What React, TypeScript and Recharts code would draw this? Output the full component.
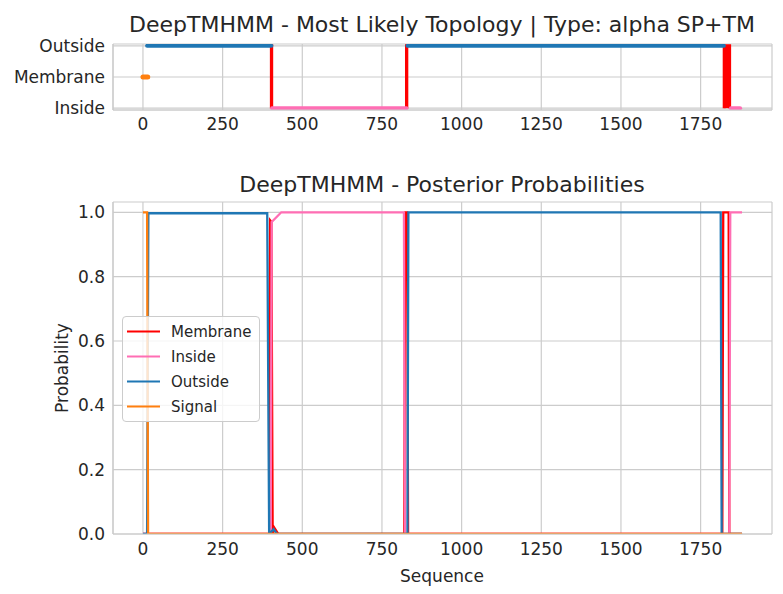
import React from "react";
import {
  ComposedChart,
  Line,
  Area,
  XAxis,
  YAxis,
  CartesianGrid,
} from "recharts";

// sequence positions shared by both panels
const xTicks = [0, 250, 500, 750, 1000, 1250, 1500, 1750];
const xDomain = [-94, 1974];

// topology panel: levels and their names
const topoLevels = [0, 1, 2];
const topoNames = ["Inside", "Membrane", "Outside"];

// topology segments [start, end]
const topoSignal = [[0, 15]];
const topoOutside = [[13, 403], [830, 1823]];
const topoInside = [[405, 827], [1845, 1874]];
const topoMembrane = [[403, 404], [827, 828], [1824, 1841]];

// posterior probabilities [position, probability]
const probTicks = [0, 0.2, 0.4, 0.6, 0.8, 1.0];
const seriesNames = ["Membrane", "Inside", "Outside", "Signal"];
const postMembrane = [
  [0, 0], [396, 0], [399, 0.975], [403, 0.97], [407, 0], [412, 0.02], [425, 0],
  [820, 0], [823, 1], [829, 1], [832, 0],
  [1818, 0], [1821, 1], [1838, 1], [1840, 0], [1880, 0],
];
const postInside = [
  [0, 0], [401, 0], [404, 0.97], [434, 1], [819, 1], [822, 0],
  [1840, 0], [1843, 1], [1880, 1],
];
const postOutside = [
  [0, 0], [13, 0], [17, 0.997], [390, 0.997], [396, 0], [410, 0.015], [420, 0],
  [830, 0], [833, 1], [1813, 1], [1816, 0], [1880, 0],
];
const postSignal = [[0, 1], [13, 1], [16, 0], [1880, 0]];

const RED = "#ff0000";
const PINK = "#ff6eb4";
const BLUE = "#1f77b4";
const ORANGE = "#ff7f0e";
const GRID = "#cccccc";
const TEXT = "#262626";
const FONT = "'DejaVu Sans', sans-serif";
const seriesColors = [RED, PINK, BLUE, ORANGE];
const posterior = [postMembrane, postInside, postOutside, postSignal];

const tickStyle = { fill: TEXT, fontSize: 17, fontFamily: FONT };
const frameLine = { stroke: GRID, strokeWidth: 1.2 };

const toPts = (arr: number[][]) => arr.map(([x, y]) => ({ x, y }));
const flat = (seg: number[], level: number) => [
  { x: seg[0], y: level },
  { x: seg[1], y: level },
];
const box = (seg: number[]) => [
  { x: seg[0], y: 0 },
  { x: seg[0], y: 2 },
  { x: seg[1], y: 2 },
  { x: seg[1], y: 0 },
];

const LegendBox = () => (
  <div
    style={{
      position: "absolute",
      left: 122,
      top: 316,
      width: 138,
      border: `1px solid ${GRID}`,
      borderRadius: 4,
      background: "rgba(255,255,255,0.8)",
      padding: "2px 0",
      boxSizing: "border-box",
      fontFamily: FONT,
      fontSize: 15,
      color: TEXT,
      zIndex: 3,
    }}
  >
    {seriesNames.map((name, i) => (
      <div key={name} style={{ height: 25, display: "flex", alignItems: "center" }}>
        <svg width={48} height={25} style={{ flex: "none" }}>
          <line x1={4} x2={37} y1={12.5} y2={12.5} stroke={seriesColors[i]} strokeWidth={2.2} />
        </svg>
        <span>{name}</span>
      </div>
    ))}
  </div>
);

export default function App() {
  return (
    <div
      style={{
        position: "absolute",
        left: 0,
        top: 0,
        width: 783,
        height: 594,
        background: "#fff",
        fontFamily: FONT,
      }}
    >
      <svg
        width={783}
        height={594}
        style={{ position: "absolute", left: 0, top: 0, pointerEvents: "none", zIndex: 2 }}
      >
        <text x={442} y={32} textAnchor="middle" fontSize={22} fill={TEXT} fontFamily={FONT}>
          DeepTMHMM - Most Likely Topology | Type: alpha SP+TM
        </text>
        <text x={442} y={192} textAnchor="middle" fontSize={22} fill={TEXT} fontFamily={FONT}>
          DeepTMHMM - Posterior Probabilities
        </text>
        <text x={442} y={582} textAnchor="middle" fontSize={17} fill={TEXT} fontFamily={FONT}>
          Sequence
        </text>
        <text
          x={68}
          y={368}
          textAnchor="middle"
          fontSize={17}
          fill={TEXT}
          fontFamily={FONT}
          transform="rotate(-90, 68, 368)"
        >
          Probability
        </text>
      </svg>

      <div style={{ position: "absolute", left: 0, top: 0 }}>
        <ComposedChart
          width={783}
          height={140}
          margin={{ top: 44, right: 11, left: 0, bottom: 0 }}
        >
          <CartesianGrid stroke={GRID} strokeWidth={1.2} />
          <XAxis
            type="number"
            dataKey="x"
            domain={xDomain}
            ticks={xTicks}
            allowDataOverflow
            height={30}
            tickLine={false}
            axisLine={frameLine}
            tick={tickStyle}
          />
          <XAxis
            xAxisId="top"
            orientation="top"
            type="number"
            domain={xDomain}
            height={0}
            tick={false}
            tickLine={false}
            axisLine={frameLine}
          />
          <YAxis
            type="number"
            domain={[-0.06, 2.06]}
            ticks={topoLevels}
            tickFormatter={(v: number) => topoNames[v]}
            width={113}
            tickLine={false}
            axisLine={frameLine}
            tick={tickStyle}
            allowDataOverflow
          />
          <YAxis
            yAxisId="right"
            orientation="right"
            type="number"
            domain={[-0.06, 2.06]}
            width={0}
            tick={false}
            tickLine={false}
            axisLine={frameLine}
          />
          {topoMembrane.map((seg, i) => (
            <Area
              key={"ma" + i}
              data={flat(seg, 2)}
              dataKey="y"
              type="linear"
              baseValue={0}
              stroke="none"
              fill={RED}
              fillOpacity={1}
              dot={false}
              activeDot={false}
              isAnimationActive={false}
            />
          ))}
          {topoMembrane.map((seg, i) => (
            <Line
              key={"ml" + i}
              data={box(seg)}
              dataKey="y"
              type="linear"
              stroke={RED}
              strokeWidth={3}
              dot={false}
              activeDot={false}
              isAnimationActive={false}
            />
          ))}
          {topoInside.map((seg, i) => (
            <Line
              key={"i" + i}
              data={flat(seg, 0)}
              dataKey="y"
              type="linear"
              stroke={PINK}
              strokeWidth={4}
              strokeLinecap="round"
              dot={false}
              activeDot={false}
              isAnimationActive={false}
            />
          ))}
          {topoOutside.map((seg, i) => (
            <Line
              key={"o" + i}
              data={flat(seg, 2)}
              dataKey="y"
              type="linear"
              stroke={BLUE}
              strokeWidth={4}
              strokeLinecap="round"
              dot={false}
              activeDot={false}
              isAnimationActive={false}
            />
          ))}
          {topoSignal.map((seg, i) => (
            <Line
              key={"s" + i}
              data={flat(seg, 1)}
              dataKey="y"
              type="linear"
              stroke={ORANGE}
              strokeWidth={5}
              strokeLinecap="round"
              dot={false}
              activeDot={false}
              isAnimationActive={false}
            />
          ))}
        </ComposedChart>
      </div>

      <div style={{ position: "absolute", left: 0, top: 150 }}>
        <ComposedChart
          width={783}
          height={444}
          margin={{ top: 52, right: 11, left: 0, bottom: 0 }}
        >
          <CartesianGrid stroke={GRID} strokeWidth={1.2} />
          <XAxis
            type="number"
            dataKey="x"
            domain={xDomain}
            ticks={xTicks}
            allowDataOverflow
            height={60}
            tickLine={false}
            tickMargin={3}
            axisLine={frameLine}
            tick={tickStyle}
          />
          <XAxis
            xAxisId="top"
            orientation="top"
            type="number"
            domain={xDomain}
            height={0}
            tick={false}
            tickLine={false}
            axisLine={frameLine}
          />
          <YAxis
            type="number"
            domain={[0, 1.032]}
            ticks={probTicks}
            tickFormatter={(v: number) => v.toFixed(1)}
            width={113}
            tickLine={false}
            axisLine={frameLine}
            tick={tickStyle}
            allowDataOverflow
          />
          <YAxis
            yAxisId="right"
            orientation="right"
            type="number"
            domain={[0, 1.032]}
            width={0}
            tick={false}
            tickLine={false}
            axisLine={frameLine}
          />
          {seriesNames.map((name, i) => (
            <Line
              key={name}
              name={name}
              data={toPts(posterior[i])}
              dataKey="y"
              type="linear"
              stroke={seriesColors[i]}
              strokeWidth={2.3}
              dot={false}
              activeDot={false}
              isAnimationActive={false}
            />
          ))}
        </ComposedChart>
      </div>

      <LegendBox />
    </div>
  );
}
